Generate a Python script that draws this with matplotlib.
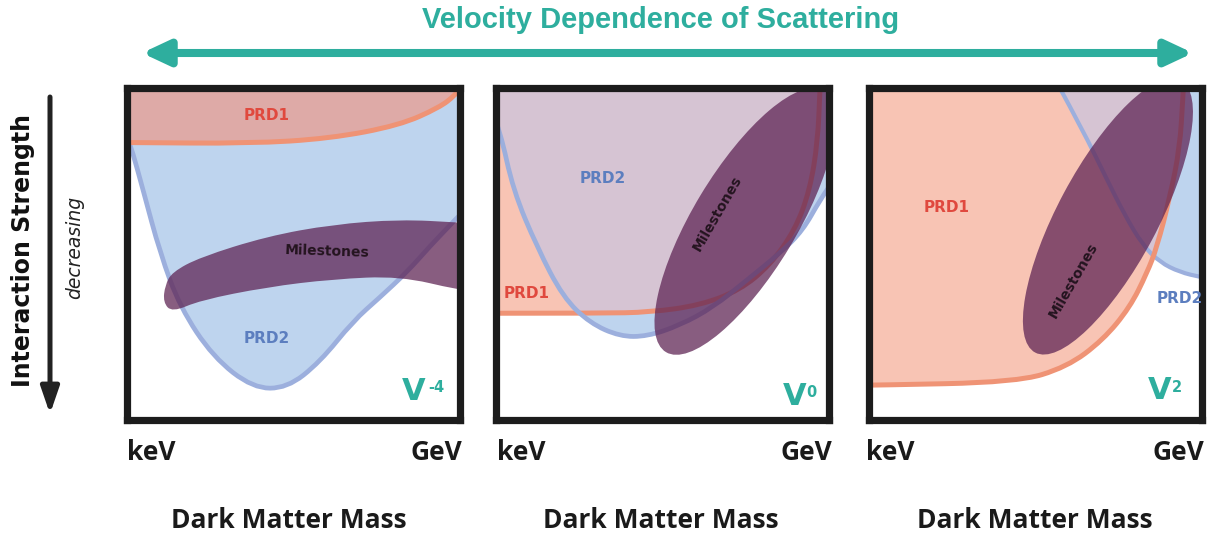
import numpy as np
import matplotlib
matplotlib.use("Agg")
import matplotlib.pyplot as plt
from matplotlib.path import Path
from matplotlib.patches import PathPatch, Ellipse, FancyArrowPatch

# ---------------- text content ----------------
title = "Velocity Dependence of Scattering"
y_label = "Interaction Strength"
y_sublabel = "decreasing"
x_label = "Dark Matter Mass"
x_ends = ["keV", "GeV"]
exponents = ["-4", "0", "2"]
region_names = ["PRD1", "PRD2", "Milestones"]

# ---------------- schematic region boundaries (x: mass 0-100, y: strength 0-100) ----------------
# Panel 1 : v^-4
p1_prd1_x = [-1, 1, 37, 61, 82, 94, 98.6, 101]
p1_prd1_y = [83.7, 83.7, 83.4, 84.9, 88.9, 94.3, 97.9, 101]
p1_prd2_x = [-1, 0.5, 1.7, 5.0, 10.1, 16.1, 26.0, 38.0, 48.2, 58.1, 68.0, 76.1, 84.2, 91.1, 97.1, 100.5, 102]
p1_prd2_y = [86, 84.3, 81.3, 69.3, 50.3, 34.0, 19.0, 9.6, 9.6, 17.5, 29.8, 37.0, 44.6, 52.4, 58.7, 62.3, 63]
p1_mile_x = [11.6, 13.7, 22.1, 42.2, 62.0, 82.1, 99.8, 106, 106, 99.8, 82.1, 62.0, 42.2, 22.1, 13.7, 11.0]
p1_mile_y = [40.7, 44.6, 49.1, 55.4, 59.0, 60.5, 59.6, 59, 39, 39.2, 43.4, 42.5, 40.1, 36.1, 32.5, 35.5]

# Panel 2 : v^0
p2_prd1_x = [-1, 31.4, 46.4, 61.4, 73.4, 82.4, 89.9, 94.4, 96.8, 97.4, 97.6]
p2_prd1_y = [32.2, 32.2, 32.5, 34.6, 39.2, 46.7, 57.2, 69.3, 84.3, 99.4, 101]
p2_prd2_x = [-1, 1.4, 5.3, 12.5, 20.3, 28.4, 37.4, 45.5, 55.4, 65.3, 75.5, 85.4, 92.3, 97.4, 102]
p2_prd2_y = [93, 87.3, 69.3, 52.1, 37.0, 29.2, 25.2, 25.2, 28.6, 34.0, 42.2, 50.3, 57.2, 66.3, 73]
p2_mile_center = (74.9, 59.9)
p2_mile_size = (92, 31)
p2_mile_angle = 59

# Panel 3 : v^2
p3_prd1_x = [-1, 1.4, 44.6, 59.6, 70.4, 78.5, 83.6, 86.6, 90.5, 93.5, 94.4, 94.6]
p3_prd1_y = [10.5, 10.5, 11.4, 16.0, 24.1, 34.0, 44.3, 52.1, 67.2, 82.2, 97.3, 101]
p3_prd2_x = [57.0, 64.4, 71.0, 77.0, 82.4, 87.5, 93.5, 99.8, 102.5]
p3_prd2_y = [101, 87.3, 73.8, 61.7, 52.7, 47.6, 44.6, 43.1, 42.8]
p3_mile_center = (71.9, 61.4)
p3_mile_size = (93, 30)
p3_mile_angle = 62

# ---------------- styles ----------------
TEAL = "#2EAE9E"
SALMON = "#F8C4B4"
BLUE = "#BED4EE"
OVER_P1 = "#DEAAA7"
OVER_P23 = "#D6C4D3"
RED_LINE = "#EF9375"
BLUE_LINE = "#9CAFDD"
PURPLE = (0.37, 0.14, 0.33, 0.74)
RED_TXT = "#E0493E"
BLUE_TXT = "#5C7EBF"
FRAME = "#1C1C1C"

W, H = 1219, 537
fig = plt.figure(figsize=(W / 100, H / 100), dpi=100)
fig.patch.set_facecolor("white")


def bspline_path(xs, ys, closed=False, fill_to=None):
    P = np.column_stack([xs, ys]).astype(float)
    if closed:
        n = len(P)
        start = (P[-1] + P[0]) / 2
        verts, codes = [start], [Path.MOVETO]
        for i in range(n):
            nxt = P[(i + 1) % n]
            verts += [P[i], (P[i] + nxt) / 2]
            codes += [Path.CURVE3, Path.CURVE3]
        verts.append(start)
        codes.append(Path.CLOSEPOLY)
        return Path(verts, codes)
    verts, codes = [P[0]], [Path.MOVETO]
    for i in range(1, len(P) - 1):
        verts += [P[i], (P[i] + P[i + 1]) / 2]
        codes += [Path.CURVE3, Path.CURVE3]
    verts.append(P[-1])
    codes.append(Path.LINETO)
    if fill_to is not None:
        for e in fill_to:
            verts.append(e)
            codes.append(Path.LINETO)
        verts.append(P[0])
        codes.append(Path.CLOSEPOLY)
    return Path(verts, codes)


def make_axes(left_px):
    ax = fig.add_axes([left_px / W, (H - 420) / H, 333 / W, 331.5 / H])
    ax.set_xlim(0, 100)
    ax.set_ylim(0, 100)
    ax.set_xticks([])
    ax.set_yticks([])
    for s in ax.spines.values():
        s.set_linewidth(5.2)
        s.set_color(FRAME)
        s.set_zorder(4)
    return ax


def draw_regions(ax, prd1, prd2, overlap_color, red_on_top, blue_lw=3.4):
    (x1, y1, c1), (x2, y2, c2) = prd1, prd2
    p1 = PathPatch(bspline_path(x1, y1, fill_to=c1), fc=SALMON, ec="none", zorder=1)
    p2 = PathPatch(bspline_path(x2, y2, fill_to=c2), fc=BLUE, ec="none", zorder=1.1)
    ax.add_patch(p1)
    ax.add_patch(p2)
    ov = PathPatch(bspline_path(x1, y1, fill_to=c1), fc=overlap_color, ec="none", zorder=1.2)
    ax.add_patch(ov)
    ov.set_clip_path(p2)
    l1 = PathPatch(bspline_path(x1, y1), fc="none", ec=RED_LINE, lw=3.6,
                   zorder=1.6 if red_on_top else 1.4, capstyle="round")
    l2 = PathPatch(bspline_path(x2, y2), fc="none", ec=BLUE_LINE, lw=blue_lw,
                   zorder=1.4 if red_on_top else 1.6, capstyle="round")
    ax.add_patch(l1)
    ax.add_patch(l2)


def v_label(ax, x, y, sup, sx, sy):
    ax.text(x, y, "V", color=TEAL, fontsize=22, fontweight="bold", ha="center",
            va="center", zorder=5, family="DejaVu Sans")
    ax.text(sx, sy, sup, color=TEAL, fontsize=10.5, fontweight="bold", ha="left",
            va="center", zorder=5, family="DejaVu Sans")


lab_kw = dict(fontsize=11, fontweight="bold", family="DejaVu Sans", zorder=5, va="center", ha="center")
mile_kw = dict(fontsize=10, fontweight="bold", family="DejaVu Sans", zorder=5, va="center",
               ha="center", color="#24141F", rotation_mode="anchor")

# ---- Panel 1 ----
ax1 = make_axes(126.5)
draw_regions(ax1,
             (p1_prd1_x, p1_prd1_y, [(-1, 101)]),
             (p1_prd2_x, p1_prd2_y, [(102, 101), (-1, 101)]),
             OVER_P1, red_on_top=True)
ax1.add_patch(PathPatch(bspline_path(p1_mile_x, p1_mile_y, closed=True), fc=PURPLE, ec="none", zorder=2))
ax1.text(42.2, 91.9, region_names[0], color=RED_TXT, **lab_kw)
ax1.text(42.2, 24.7, region_names[1], color=BLUE_TXT, **lab_kw)
ax1.text(60.2, 50.8, region_names[2], rotation=-2, **mile_kw)
v_label(ax1, 86.3, 8.6, exponents[0], 90.6, 9.8)

# ---- Panel 2 ----
ax2 = make_axes(495.5)
draw_regions(ax2,
             (p2_prd1_x, p2_prd1_y, [(-1, 101)]),
             (p2_prd2_x, p2_prd2_y, [(102, 101), (-1, 101)]),
             OVER_P23, red_on_top=False)
ax2.add_patch(Ellipse(p2_mile_center, p2_mile_size[0], p2_mile_size[1], angle=p2_mile_angle,
                      fc=PURPLE, ec="none", zorder=2))
ax2.text(9.4, 38.3, region_names[0], color=RED_TXT, **lab_kw)
ax2.text(32.3, 72.9, region_names[1], color=BLUE_TXT, **lab_kw)
ax2.text(66.5, 62.3, region_names[2], rotation=60, **mile_kw)
v_label(ax2, 89.9, 7.0, exponents[1], 93.4, 8.4)

# ---- Panel 3 ----
ax3 = make_axes(868.5)
draw_regions(ax3,
             (p3_prd1_x, p3_prd1_y, [(-1, 101)]),
             (p3_prd2_x, p3_prd2_y, [(102.5, 101)]),
             OVER_P23, red_on_top=True, blue_lw=3.0)
ax3.add_patch(Ellipse(p3_mile_center, p3_mile_size[0], p3_mile_size[1], angle=p3_mile_angle,
                      fc=PURPLE, ec="none", zorder=2))
ax3.text(23.6, 64.2, region_names[0], color=RED_TXT, **lab_kw)
t = dict(lab_kw)
t["ha"] = "right"
ax3.text(100.3, 36.7, region_names[1], color=BLUE_TXT, **t)
ax3.text(61.4, 42.2, region_names[2], rotation=60, **mile_kw)
v_label(ax3, 87.5, 8.9, exponents[2], 91.1, 9.8)

# ---------------- figure level annotations ----------------
def fx(px):
    return px / W


def fy(py):
    return 1 - py / H


fig.text(fx(661), fy(20), title, color=TEAL, fontsize=21, fontweight="bold",
         ha="center", va="center", family=["Liberation Sans", "DejaVu Sans"])
fig.add_artist(FancyArrowPatch((fx(142), fy(53)), (fx(1193), fy(53)), transform=fig.transFigure,
                               arrowstyle="<|-|>,head_length=16,head_width=7.5",
                               mutation_scale=1, lw=5.8, color=TEAL, shrinkA=0, shrinkB=0))

fig.text(fx(23), fy(250), y_label, rotation=90, fontsize=17, fontweight="bold",
         ha="center", va="center", family="DejaVu Sans", color="#111111")
fig.text(fx(75), fy(247), y_sublabel, rotation=90, fontsize=13.5, style="italic",
         ha="center", va="center", family="DejaVu Sans", color="#222222")
fig.add_artist(FancyArrowPatch((fx(50), fy(97)), (fx(50), fy(414)), transform=fig.transFigure,
                               arrowstyle="-|>,head_length=16,head_width=5.5",
                               mutation_scale=1, lw=3.6, color="#222222", shrinkA=0, shrinkB=0))

axis_font = ["Open Sans", "DejaVu Sans"]
for left, right, center in [(127, 462, 289), (497, 832, 661), (866, 1204, 1035)]:
    fig.text(fx(left), fy(452), x_ends[0], ha="left", va="center", fontsize=19,
             fontweight="bold", family=axis_font, color="#1A1A1A")
    fig.text(fx(right), fy(452), x_ends[1], ha="right", va="center", fontsize=19,
             fontweight="bold", family=axis_font, color="#1A1A1A")
    fig.text(fx(center), fy(521), x_label, ha="center", va="center", fontsize=19,
             fontweight="bold", family=axis_font, color="#1A1A1A")

fig.savefig("out.png", dpi=100, facecolor="white")
